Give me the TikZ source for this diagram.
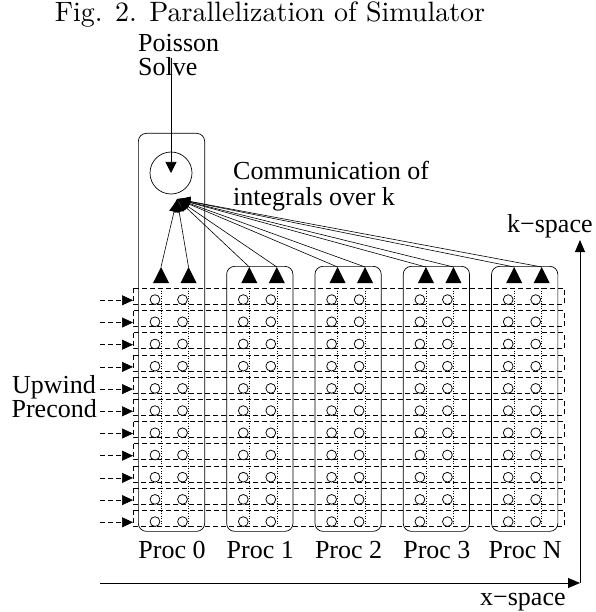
\documentclass[tikz,border=0pt]{standalone}
\usepackage{fontspec}
\newfontfamily\tms{Liberation Serif}
\newfontfamily\lmten{lmroman10-regular.otf}
\usetikzlibrary{arrows.meta,calc}
\begin{document}
\begin{tikzpicture}[x=1pt,y=-1pt,
  lbl/.style={font=\tms\fontsize{26}{30}\selectfont, inner sep=0pt},
  sidelbl/.style={font=\tms\fontsize{26}{30}\selectfont, inner sep=0pt},
  ttl/.style={font=\lmten\fontsize{28}{32}\selectfont, inner sep=0pt},
  procbox/.style={draw, rounded corners=8pt, line width=0.7pt, inner sep=0pt},
  rowbox/.style={draw, dash pattern=on 5pt off 3pt, line width=0.6pt},
  dasharrow/.style={dash pattern=on 5pt off 3pt, line width=0.6pt, -{Triangle[length=11pt,width=10pt]}},
  dotcol/.style={dotted, line width=0.5pt},
  cellc/.style={line width=0.75pt},
  tri/.style={fill=black},
  commarrow/.style={line width=0.6pt, -{Latex[length=13pt,width=10pt]}},
  axis/.style={line width=0.8pt, -{Triangle[length=12pt,width=10pt]}},
  solvearrow/.style={line width=0.7pt, -{Triangle[length=11pt,width=11pt]}}
]
\useasboundingbox (0,0) rectangle (595,612);

% title
\node[ttl, anchor=base] (title) at (270,22) {Fig. 2. Parallelization of Simulator};

% Poisson solve label and arrow
\node[lbl, anchor=base west] (poisson) at (138,52) {Poisson};
\node[lbl, anchor=base west] (solve) at (138,76) {Solve};
\node[circle, draw, line width=0.7pt, minimum size=42pt, inner sep=0pt] (pc) at (171,173) {};
\coordinate (ptop) at (171,58);
\draw[solvearrow] (ptop) -- (pc.center);

% communication label
\node[lbl, anchor=base west] (comm1) at (233,180) {Communication of};
\node[lbl, anchor=base west] (comm2) at (233,206) {integrals over k};

% rows
\foreach \i in {0,...,10} {
  \pgfmathsetmacro\yt{288.3+22.2*\i}
  \draw[rowbox] (133,\yt) rectangle (564,{\yt+16});
  \coordinate (as\i) at (100,{\yt+12});
  \coordinate (ae\i) at (133,{\yt+12});
  \draw[dasharrow] (as\i) -- (ae\i);
  \foreach \k in {0,...,4} {
    \pgfmathsetmacro\bx{88.3*\k}
    \draw[cellc] ({155+\bx},{\yt+11.3}) circle[radius=4.9pt];
    \draw[cellc] ({182.5+\bx},{\yt+11.3}) circle[radius=4.9pt];
  }
}

% dotted columns, triangles, processor boxes
\coordinate (conv) at (177,199);
\foreach \k/\lab in {0/0,1/1,2/2,3/3,4/N} {
  \pgfmathsetmacro\bx{88.3*\k}
  \draw[dotcol] ({161+\bx},288) -- ({161+\bx},526.5);
  \draw[dotcol] ({188.5+\bx},288) -- ({188.5+\bx},526.5);
  \fill[tri] ({161+\bx-8},283) -- ({161+\bx},267) -- ({161+\bx+8},283) -- cycle;
  \fill[tri] ({188.5+\bx-8},283) -- ({188.5+\bx},267) -- ({188.5+\bx+8},283) -- cycle;
  \coordinate (ta\k) at ({161+\bx},267);
  \coordinate (tb\k) at ({188.5+\bx},267);
  \draw[commarrow] (ta\k) -- (conv);
  \draw[commarrow] (tb\k) -- (conv);
  \node[lbl, anchor=base] (lab\k) at ({172+\bx},558) {Proc \lab};
}
\node[procbox, anchor=north west, minimum width=66.3pt, minimum height=398pt] (p0) at (138,133) {};
\foreach \k in {1,...,4} {
  \pgfmathsetmacro\bx{88.3*\k}
  \node[procbox, anchor=north west, minimum width=66.3pt, minimum height=265pt] (p\k) at ({138+\bx},266) {};
}

% upwind label
\node[sidelbl, anchor=base east] (upwind) at (96,393) {Upwind};
\node[sidelbl, anchor=base east] (precond) at (97,417) {Precond};

% axes
\coordinate (orig) at (580,583);
\coordinate (xs) at (100,583);
\coordinate (ke) at (580,240);
\draw[axis] (xs) -- (orig);
\draw[axis] (orig) -- (ke);
\node[lbl, anchor=base west] (kspace) at (507,233) {k−space};
\node[lbl, anchor=base west] (xspace) at (480,605) {x−space};
\end{tikzpicture}
\end{document}
